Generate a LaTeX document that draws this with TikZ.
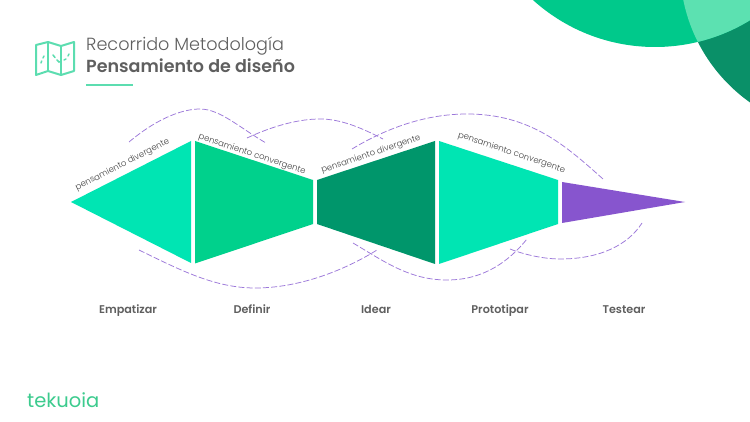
\documentclass[tikz,border=0pt]{standalone}
\usepackage{fontspec}
\setmainfont{Poppins}[UprightFont=* Light,BoldFont=* SemiBold]
\newfontfamily\logofont{Poppins}
\newfontfamily\labelfont{Poppins SemiBold}
\definecolor{tealA}{HTML}{00E5B3}
\definecolor{greenB}{HTML}{00D18C}
\definecolor{greenC}{HTML}{00966B}
\definecolor{violetD}{HTML}{8755CE}
\definecolor{circA}{HTML}{00C98B}
\definecolor{circB}{HTML}{5CE1B1}
\definecolor{circC}{HTML}{0A9068}
\definecolor{mintline}{HTML}{5CDDB0}
\definecolor{greytxt}{HTML}{5F5F5F}
\definecolor{darktxt}{HTML}{444444}
\definecolor{logogreen}{HTML}{3CCB8E}
\definecolor{dashv}{HTML}{9C78DA}
\tikzset{
 dashcurve/.style={draw=dashv,line width=0.75pt,dash pattern=on 6pt off 2.2pt},
 slopetext/.style={font=\fontsize{8.5}{10}\selectfont,text=darktxt,inner sep=0pt,anchor=center},
 stagelabel/.style={font=\labelfont\fontsize{11.2}{12}\selectfont,text=greytxt,inner sep=0pt,anchor=base},
 iconline/.style={draw=mintline,line width=2pt,line join=round},
 icondash/.style={draw=mintline,line width=1.5pt,line cap=round}
}
\begin{document}
\begin{tikzpicture}[x=1pt,y=-1pt]
\useasboundingbox (0,0) rectangle (750,422);
\fill[white] (0,0) rectangle (750,422);
% corner circles
\begin{scope}
\clip (0,0) rectangle (750,422);
\fill[circC] (846,-33) circle (166);
\fill[circA] (655,-135) circle (182);
\begin{scope}
\clip (655,-135) circle (182);
\fill[circB] (846,-33) circle (166);
\end{scope}
\end{scope}
% icon
\draw[iconline] (36,45) -- (48,42) -- (61,46) -- (74,42) -- (74,71) -- (61,75) -- (48,71) -- (36,75) -- cycle;
\draw[iconline] (48,42) -- (48,71) (61,46) -- (61,75);
\draw[icondash] (41,63) -- (41.7,61) (43,58) -- (44,56) (53,55) -- (55,57.5) (57,60) -- (59,62) -- (61,61.5) (64,60) -- (66,59) (68,56) -- (69,54);
% title
\node[anchor=base west,inner sep=0pt,text=greytxt,font=\fontsize{17.6}{20}\selectfont] (title1) at (86,51) {Recorrido Metodología};
\node[anchor=base west,inner sep=0pt,text=greytxt,font=\fontsize{17.5}{20}\selectfont\bfseries] (title2) at (86,73) {Pensamiento de diseño};
\coordinate (ulA) at (86,85); \coordinate (ulB) at (133,85);
\draw[mintline,line width=1.2pt] (ulA) -- (ulB);
% shapes
\fill[tealA] (71,202) -- (191,141) -- (191,263) -- cycle;
\fill[greenB] (195,141) -- (313,180) -- (313,224) -- (195,263.5) -- cycle;
\fill[greenC] (317,180) -- (435,141) -- (435,264) -- (317,224) -- cycle;
\fill[tealA] (439,141) -- (558,180) -- (558,224) -- (439,264) -- cycle;
\fill[violetD] (562,182) -- (685,202) -- (562,223) -- cycle;
% dashed curves
\coordinate (a1) at (129,142); \coordinate (a2) at (266,143);
\coordinate (b1) at (247,138); \coordinate (b2) at (383,139);
\coordinate (c1) at (352,149); \coordinate (c2) at (603,179);
\coordinate (d1) at (139,250); \coordinate (d2) at (377,250);
\coordinate (e1) at (353,243); \coordinate (e2) at (527,239);
\coordinate (f1) at (510,249); \coordinate (f2) at (642,223);
\draw[dashcurve] (a1) .. controls (160,116) and (185,109) .. (200,109) .. controls (220,109) and (240,128) .. (a2);
\draw[dashcurve] (b1) .. controls (275,125) and (300,119) .. (320,119) .. controls (340,119) and (360,127) .. (b2);
\draw[dashcurve] (c1) .. controls (400,120) and (440,114) .. (467,114) .. controls (530,114) and (565,145) .. (c2);
\draw[dashcurve] (d1) .. controls (180,270) and (215,288) .. (255,288) .. controls (300,288) and (345,270) .. (d2);
\draw[dashcurve] (e1) .. controls (385,262) and (410,280) .. (447,280) .. controls (485,280) and (510,260) .. (e2);
\draw[dashcurve] (f1) .. controls (525,255) and (545,259) .. (560,259) .. controls (600,259) and (628,245) .. (f2);
% slope texts
\node[slopetext,rotate=27] (t1) at (122.5,165) {pensamiento divergente};
\node[slopetext,rotate=-18.5] (t2) at (252,154.5) {pensamiento convergente};
\node[slopetext,rotate=18.5] (t3) at (371,154.5) {pensamiento divergente};
\node[slopetext,rotate=-18.5] (t4) at (511.5,153) {pensamiento convergente};
% labels
\node[stagelabel] (l1) at (128,313) {Empatizar};
\node[stagelabel] (l2) at (252,313) {Definir};
\node[stagelabel] (l3) at (376,313) {Idear};
\node[stagelabel] (l4) at (500,313) {Prototipar};
\node[stagelabel] (l5) at (624,313) {Testear};
% logo
\node[anchor=base west,inner sep=0pt,text=logogreen,font=\logofont\fontsize{19.5}{20}\selectfont] (logo) at (27,407) {tekuoia};
\end{tikzpicture}
\end{document}
